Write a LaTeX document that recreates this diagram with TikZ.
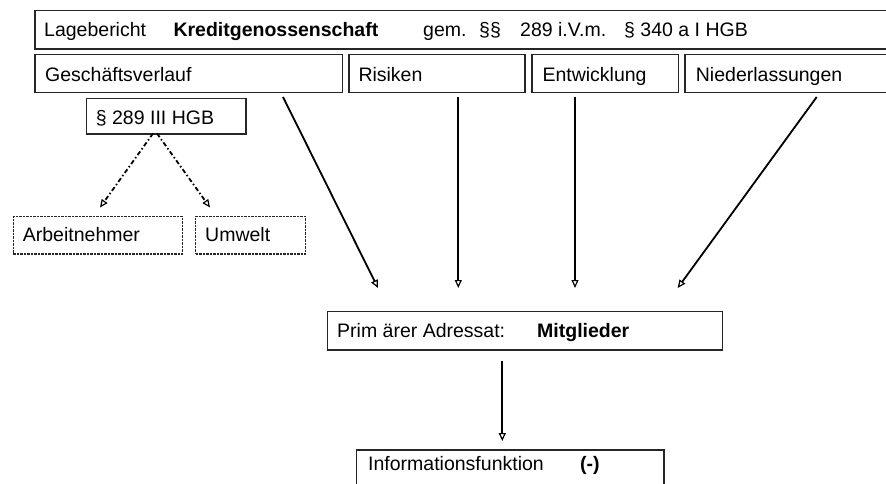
\documentclass[tikz,border=0pt]{standalone}
\usepackage{fontspec}
\setmainfont{Liberation Sans}
\usetikzlibrary{arrows.meta}
\begin{document}
\begin{tikzpicture}[x=1pt,y=-1pt,
 box/.style={draw=black!85, line width=1.5pt, rectangle, inner sep=0pt, anchor=north west},
 dbox/.style={draw=black!85, line width=1.4pt, dash pattern=on 2.5pt off 1pt, rectangle, inner sep=0pt, anchor=north west},
 lbl/.style={anchor=base west, inner sep=0pt, font=\fontsize{19.5}{23}\selectfont},
 arr/.style={line width=1.8pt, -{Triangle[open,length=8pt,width=7pt,line width=1.2pt]}},
 darr/.style={line width=1.8pt, dash pattern=on 4.5pt off 2.5pt on 1.5pt off 2.5pt, -{Triangle[open,length=8pt,width=7pt,line width=1.2pt]}}]
\useasboundingbox (0,0) rectangle (886,484);
\clip (0,0) rectangle (886,484);
% boxes
\node[box, minimum width=870pt, minimum height=38.3pt] (top) at (34.3,10) {};
\node[box, minimum width=307.4pt, minimum height=37.7pt] (gv) at (34.3,54) {};
\node[box, minimum width=175.7pt, minimum height=37.7pt] (ri) at (348.3,54) {};
\node[box, minimum width=146.7pt, minimum height=37.7pt] (en) at (531,54) {};
\node[box, minimum width=215.7pt, minimum height=37.7pt] (ni) at (684.3,54) {};
\node[box, minimum width=159.3pt, minimum height=35.3pt] (hgb) at (85.7,98) {};
\node[dbox, minimum width=169pt, minimum height=37.6pt] (ar) at (12.7,215.7) {};
\node[dbox, minimum width=110pt, minimum height=37.6pt] (um) at (195,215.7) {};
\node[box, minimum width=395pt, minimum height=38.3pt] (pa) at (326.7,310.7) {};
\node[box, minimum width=307.6pt, minimum height=45pt] (inf) at (355.7,449.3) {};
% texts
\node[lbl] (t1) at (44,36.7) {Lagebericht};
\node[lbl] (t2) at (173.3,36.7) {\bfseries Kreditgenossenschaft};
\node[lbl] (t3) at (423,36.7) {gem.};
\node[lbl] (t4) at (479,36.7) {§§};
\node[lbl] (t5) at (520,36.7) {289 i.V.m.};
\node[lbl] (t6) at (624,36.7) {§ 340 a I HGB};
\node[lbl] (t7) at (45,81.7) {Geschäftsverlauf};
\node[lbl] (t8) at (358.3,81.7) {Risiken};
\node[lbl] (t9) at (542.3,81.7) {Entwicklung};
\node[lbl] (t10) at (695.7,81.7) {Niederlassungen};
\node[lbl] (t11) at (95.7,125) {§ 289 III HGB};
\node[lbl] (t12) at (22.7,241.7) {Arbeitnehmer};
\node[lbl] (t13) at (205,241.7) {Umwelt};
\node[lbl] (t14) at (337,337.3) {Prim ärer Adressat:};
\node[lbl] (t15) at (537,337.3) {\bfseries Mitglieder};
\node[lbl] (t16) at (368,470) {Informationsfunktion};
\node[lbl] (t17) at (580,470) {\bfseries (-)};
% connector ends
\coordinate (a1s) at (283,97);   \coordinate (a1e) at (378,288);
\coordinate (a2s) at (458.3,97); \coordinate (a2e) at (458.3,288);
\coordinate (a3s) at (575,97);   \coordinate (a3e) at (575,288);
\coordinate (a4s) at (816.7,97); \coordinate (a4e) at (677.7,288);
\coordinate (a5s) at (502.3,361);\coordinate (a5e) at (502.3,441);
\coordinate (d1s) at (153,133.5);\coordinate (d1e) at (100,207.5);
\coordinate (d2s) at (157,133.5);\coordinate (d2e) at (210,207.5);
\draw[arr] (a1s) -- (a1e);
\draw[arr] (a2s) -- (a2e);
\draw[arr] (a3s) -- (a3e);
\draw[arr] (a4s) -- (a4e);
\draw[arr] (a5s) -- (a5e);
\draw[darr] (d1s) -- (d1e);
\draw[darr] (d2s) -- (d2e);
\end{tikzpicture}
\end{document}
